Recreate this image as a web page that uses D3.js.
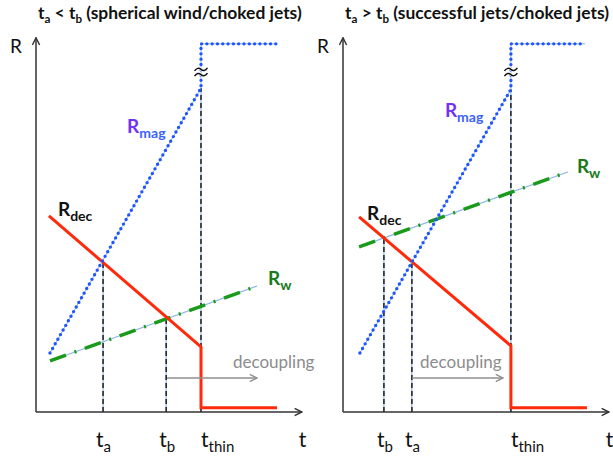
<!DOCTYPE html>
<html>
<head>
<meta charset="utf-8">
<script src="https://cdn.jsdelivr.net/npm/d3@7"></script>
<style>
  body { margin: 0; background: #fff; }
  text { font-family: Lato, "Open Sans", sans-serif; }
</style>
</head>
<body>
<svg id="chart" width="613" height="466"></svg>
<script>
// titles, as [text, isSubscript] pieces
const titleLeft  = [["t",0],["a",1],[" < t",0],["b",1],[" (spherical wind/choked jets)",0]];
const titleRight = [["t",0],["a",1],[" > t",0],["b",1],[" (successful jets/choked jets)",0]];

// curves in (t, R) units, both axes run 0..10
const magLeft  = [[0.53,1.56],[6.25,8.57],[6.25,9.74],[9.09,9.74]];
const decLeft  = [[0.49,5.19],[6.25,1.72],[6.25,0.11],[9.13,0.11]];
const wLeft    = [[0.53,1.35],[8.37,3.33]];
const magRight = [[0.64,1.56],[6.36,8.54],[6.36,9.74],[9.17,9.74]];
const decRight = [[0.61,5.16],[6.36,1.75],[6.36,0.11],[9.24,0.11]];
const wRight   = [[0.61,4.37],[8.52,6.35]];

// characteristic times: [t, R where the guide line stops, subscript]
const timesLeft  = [[2.54,3.97,"a"],[4.93,2.50,"b"],[6.25,8.57,"thin"]];
const timesRight = [[1.55,4.60,"b"],[2.61,3.97,"a"],[6.36,8.54,"thin"]];

// decoupling arrow [from t, to t]
const decoupleLeft  = [4.96, 8.37];
const decoupleRight = [2.61, 6.06];

const panels = [
  {x0: 36,  title: titleLeft,  mag: magLeft,  dec: decLeft,  w: wLeft,  times: timesLeft,  arrow: decoupleLeft,
   lab: {dec: [0.83,5.19], mag: [3.45,7.38], w: [8.79,3.36], text: [7.46,1.16]}},
  {x0: 343, title: titleRight, mag: magRight, dec: decRight, w: wRight, times: timesRight, arrow: decoupleRight,
   lab: {dec: [0.91,5.08], mag: [3.86,7.80], w: [8.86,6.32], text: [2.92,1.16]}}
];

const plotW = 264, yTop = 34, yBase = 412;
const x = d3.scaleLinear().domain([0, 10]).range([0, plotW]);
const y = d3.scaleLinear().domain([0, 10]).range([yBase, yTop]);
const line = d3.line().x(d => x(d[0])).y(d => y(d[1]));

const svg = d3.select("#chart");

// open arrow heads
const defs = svg.append("defs");
function marker(id, color) {
  defs.append("marker")
    .attr("id", id)
    .attr("viewBox", "0 0 10 10")
    .attr("refX", 9).attr("refY", 5)
    .attr("markerWidth", 9).attr("markerHeight", 9)
    .attr("markerUnits", "userSpaceOnUse")
    .attr("orient", "auto")
  .append("path")
    .attr("d", "M1,1 L9,5 L1,9")
    .attr("fill", "none")
    .attr("stroke", color)
    .attr("stroke-width", 1.6);
}
marker("axisHead", "#333");
marker("grayHead", "#8f8f8f");

// text with subscripts
function rich(sel, parts, subSize, subDy) {
  parts.forEach((p, i) => {
    const prevSub = i > 0 && parts[i - 1][1];
    const ts = sel.append("tspan").text(p[0]);
    if (p[1]) ts.attr("font-size", subSize).attr("dy", subDy);
    else if (prevSub) ts.attr("dy", -subDy);
  });
}

panels.forEach(p => {
  const g = svg.append("g").attr("transform", `translate(${p.x0},0)`);

  // title, shrunk to the panel width
  const title = g.append("text")
      .attr("x", 2).attr("y", 19)
      .attr("font-size", 18).attr("font-weight", "bold").attr("fill", "#111");
  rich(title, p.title, 12, 4);
  const len = title.node().getComputedTextLength();
  const k = 264 / len;
  title.attr("font-size", 18 * k);
  title.selectAll("tspan").each(function() {
    const fs = d3.select(this).attr("font-size");
    if (fs) d3.select(this).attr("font-size", fs * k);
  });

  // axes
  g.append("line")
    .attr("x1", x(0)).attr("y1", y(0)).attr("x2", x(0)).attr("y2", y(9.9))
    .attr("stroke", "#333").attr("stroke-width", 1.5)
    .attr("marker-end", "url(#axisHead)");
  g.append("line")
    .attr("x1", x(0)).attr("y1", y(0)).attr("x2", x(10.07)).attr("y2", y(0))
    .attr("stroke", "#333").attr("stroke-width", 1.5)
    .attr("marker-end", "url(#axisHead)");
  g.append("text").attr("x", -26).attr("y", 53).attr("font-size", 19).attr("fill", "#111").text("R");
  g.append("text").attr("x", x(9.95)).attr("y", 447).attr("font-size", 21).attr("fill", "#111").text("t");

  // guide lines at characteristic times
  p.times.forEach(d => {
    const seg = [[d[0], 0], [d[0], d[1]]];
    g.append("path").attr("d", line(seg)).attr("stroke", "#8fb4e6").attr("stroke-width", 1.2).attr("fill", "none");
    g.append("path").attr("d", line(seg)).attr("stroke", "#111").attr("stroke-width", 1.4)
      .attr("stroke-dasharray", "5 3").attr("fill", "none");
    const lbl = g.append("text")
      .attr("x", d[2] === "thin" ? x(d[0]) : x(d[0]) - 7)
      .attr("y", 447).attr("font-size", 21).attr("fill", "#111");
    rich(lbl, [["t", 0], [d[2], 1]], 15, 5);
  });

  // R_w : thin blue core with green dash-dot
  g.append("path").attr("d", line(p.w)).attr("stroke", "#8fb4e6").attr("stroke-width", 1.2).attr("fill", "none");
  g.append("path").attr("d", line(p.w)).attr("stroke", "#1a9a1a").attr("stroke-width", 3.5)
    .attr("stroke-dasharray", "17 9 2 9").attr("fill", "none");

  // R_dec
  g.append("path").attr("d", line(p.dec)).attr("stroke", "#ff2a0a").attr("stroke-width", 3)
    .attr("fill", "none").attr("stroke-linejoin", "miter");

  // R_mag : dotted blue
  g.append("path").attr("d", line(p.mag)).attr("stroke", "#8fb4e6").attr("stroke-width", 1).attr("fill", "none");
  g.append("path").attr("d", line(p.mag)).attr("stroke", "#1f55ff").attr("stroke-width", 3.4)
    .attr("stroke-dasharray", "0 5.3").attr("stroke-linecap", "round").attr("fill", "none");

  // break mark: two tildes across the jump
  const brk = g.append("g").attr("transform", `translate(${x(p.times[2][0])},72)`);
  [-2.6, 2.6].forEach(dy => {
    const wave = `M-6.5,${dy + 1.5} Q-3.2,${dy - 2.8} 0,${dy} T6.5,${dy - 1.5}`;
    brk.append("path").attr("d", wave).attr("fill", "none").attr("stroke", "#fff").attr("stroke-width", 3);
    brk.append("path").attr("d", wave).attr("fill", "none").attr("stroke", "#111").attr("stroke-width", 1.5);
  });

  // decoupling arrow
  g.append("line")
    .attr("x1", x(p.arrow[0])).attr("y1", y(0.90)).attr("x2", x(p.arrow[1])).attr("y2", y(0.90))
    .attr("stroke", "#8f8f8f").attr("stroke-width", 1.6)
    .attr("marker-end", "url(#grayHead)");
  g.append("text").attr("x", x(p.lab.text[0])).attr("y", y(p.lab.text[1]))
    .attr("font-size", 17).attr("fill", "#8c8c8c").text("decoupling");

  // curve labels
  rich(g.append("text").attr("x", x(p.lab.dec[0])).attr("y", y(p.lab.dec[1]))
      .attr("font-size", 19).attr("font-weight", "bold").attr("fill", "#111"),
    [["R", 0], ["dec", 1]], 14, 5);
  const magT = g.append("text").attr("x", x(p.lab.mag[0])).attr("y", y(p.lab.mag[1]))
      .attr("font-size", 19).attr("font-weight", "bold");
  magT.append("tspan").attr("fill", "#7033f2").text("R");
  magT.append("tspan").attr("fill", "#3a63ff").attr("font-size", 14).attr("dy", 5).text("mag");
  rich(g.append("text").attr("x", x(p.lab.w[0])).attr("y", y(p.lab.w[1]))
      .attr("font-size", 19).attr("font-weight", "bold").attr("fill", "#1a7a1a"),
    [["R", 0], ["w", 1]], 14, 5);
});
</script>
</body>
</html>
